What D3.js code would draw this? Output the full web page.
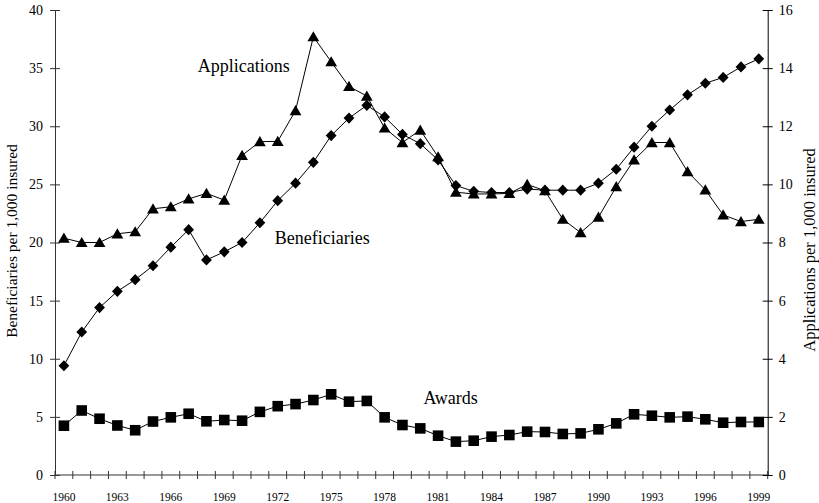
<!DOCTYPE html>
<html>
<head>
<meta charset="utf-8">
<script src="https://cdn.jsdelivr.net/npm/d3@7"></script>
<style>
  html, body { margin: 0; padding: 0; background: #fff; }
  svg { display: block; }
  svg text { font-family: "Liberation Serif", "Times New Roman", serif; }
</style>
</head>
<body>
<svg id="chart" width="819" height="503"></svg>
<script>
// Disability insurance rates per 1,000 insured workers, 1960-1999
const years = d3.range(1960, 2000);

// left axis: beneficiaries and awards per 1,000 insured
const beneficiaries = [9.4, 12.3, 14.4, 15.8, 16.8, 18.0, 19.6, 21.1, 18.5, 19.2,
  20.0, 21.7, 23.6, 25.1, 26.9, 29.2, 30.7, 31.8, 30.8, 29.3,
  28.5, 27.1, 24.9, 24.4, 24.3, 24.3, 24.6, 24.5, 24.5, 24.5,
  25.1, 26.3, 28.2, 30.0, 31.4, 32.7, 33.7, 34.2, 35.1, 35.8];

const awards = [4.24, 5.55, 4.84, 4.26, 3.85, 4.6, 4.96, 5.27, 4.62, 4.73,
  4.67, 5.43, 5.92, 6.1, 6.45, 6.94, 6.31, 6.37, 4.96, 4.3,
  4.01, 3.38, 2.87, 2.95, 3.3, 3.44, 3.73, 3.7, 3.53, 3.58,
  3.93, 4.44, 5.22, 5.1, 4.96, 5.02, 4.79, 4.5, 4.56, 4.56];

// right axis: applications per 1,000 insured
const applications = [8.15, 8.0, 8.0, 8.3, 8.37, 9.16, 9.23, 9.5, 9.69, 9.46,
  11.0, 11.47, 11.48, 12.54, 15.08, 14.22, 13.37, 13.04, 11.94, 11.44,
  11.87, 10.95, 9.73, 9.67, 9.67, 9.69, 10.0, 9.78, 8.8, 8.34,
  8.87, 9.92, 10.84, 11.44, 11.44, 10.44, 9.81, 8.95, 8.72, 8.8];

const leftTicks = [0, 5, 10, 15, 20, 25, 30, 35, 40];
const rightTicks = [0, 2, 4, 6, 8, 10, 12, 14, 16];
const yearLabels = years.filter((y, i) => i % 3 === 0);

const leftTitle = "Beneficiaries per 1,000 insured";
const rightTitle = "Applications per 1,000 insured";

const FONT = '"Liberation Serif", "Times New Roman", serif';
const svg = d3.select("#chart");
const plot = { left: 55, right: 767.7, top: 10, bottom: 475 };

const x = d3.scaleBand().domain(years).range([plot.left, plot.right]).padding(0);
const xc = yr => x(yr) + x.bandwidth() / 2;
// fractional-year position for annotation text
const xAt = yr => xc(1960) + (yr - 1960) * x.step();
const yL = d3.scaleLinear().domain([0, 40]).range([plot.bottom, plot.top]);
const yR = d3.scaleLinear().domain([0, 16]).range([plot.bottom, plot.top]);

// x axis: ticks sit on category boundaries, labels every third year
const xEdges = years.map(y => x(y)).concat([plot.right]);
const gx = svg.append("g");
gx.append("line")
  .attr("x1", plot.left).attr("x2", plot.right)
  .attr("y1", plot.bottom).attr("y2", plot.bottom)
  .attr("stroke", "#333").attr("stroke-width", 1);
gx.selectAll("line.tick").data(xEdges).join("line")
  .attr("class", "tick")
  .attr("x1", d => d).attr("x2", d => d)
  .attr("y1", plot.bottom - 4).attr("y2", plot.bottom + 4)
  .attr("stroke", "#333").attr("stroke-width", 1);
gx.selectAll("text").data(yearLabels).join("text")
  .attr("x", d => xc(d)).attr("y", 500.5)
  .attr("text-anchor", "middle")
  .attr("font-family", FONT)
  .attr("font-size", "11.5px")
  .attr("fill", "#000")
  .text(d => d);

// left axis
const gl = svg.append("g")
  .attr("transform", `translate(${plot.left},0)`)
  .call(d3.axisLeft(yL).tickValues(leftTicks).tickSize(5).tickSizeOuter(0).tickPadding(7))
  .attr("font-family", FONT);
gl.select(".domain").attr("stroke", "#333");
gl.selectAll(".tick line").attr("x1", -5).attr("x2", 5).attr("stroke", "#333");
gl.selectAll(".tick text")
  .attr("font-family", FONT)
  .attr("font-size", "14px").attr("fill", "#000");

// right axis
const gr = svg.append("g")
  .attr("transform", `translate(${plot.right},0)`)
  .call(d3.axisRight(yR).tickValues(rightTicks).tickSize(5).tickSizeOuter(0).tickPadding(6))
  .attr("font-family", FONT);
gr.select(".domain").attr("stroke", "#000");
gr.selectAll(".tick line").attr("x1", -5).attr("x2", 5).attr("stroke", "#000");
gr.selectAll(".tick text")
  .attr("font-family", FONT)
  .attr("font-size", "14px").attr("fill", "#000");

// axis titles
svg.append("text")
  .attr("transform", "translate(17,241) rotate(-90)")
  .attr("text-anchor", "middle").attr("font-family", FONT)
  .attr("font-size", "15.5px").attr("fill", "#000")
  .text(leftTitle);
svg.append("text")
  .attr("transform", "translate(815,250) rotate(-90)")
  .attr("text-anchor", "middle").attr("font-family", FONT)
  .attr("font-size", "16.5px").attr("fill", "#000")
  .text(rightTitle);

// series
const series = [
  { name: "awards", values: awards, y: yL, marker: "square" },
  { name: "beneficiaries", values: beneficiaries, y: yL, marker: "diamond" },
  { name: "applications", values: applications, y: yR, marker: "triangle" }
];

const markerPath = {
  square: "M-5.3,-5.3H5.3V5.3H-5.3Z",
  diamond: "M0,-5.6L5.4,0L0,5.6L-5.4,0Z",
  triangle: "M0,-5.6L5.9,4.6L-5.9,4.6Z"
};

series.forEach(s => {
  const pts = years.map((yr, i) => [xc(yr), s.y(s.values[i])]);
  svg.append("path")
    .attr("d", d3.line()(pts))
    .attr("fill", "none").attr("stroke", "#000").attr("stroke-width", 1);
  svg.append("g").selectAll("path").data(pts).join("path")
    .attr("transform", d => `translate(${d[0]},${d[1]})`)
    .attr("d", markerPath[s.marker])
    .attr("fill", "#000");
});

// series labels
const notes = [
  { text: "Applications", yr: 1970.1, v: 34.67 },
  { text: "Beneficiaries", yr: 1974.5, v: 19.87 },
  { text: "Awards", yr: 1981.7, v: 6.11 }
];
svg.append("g").selectAll("text").data(notes).join("text")
  .attr("x", d => xAt(d.yr)).attr("y", d => yL(d.v))
  .attr("text-anchor", "middle")
  .attr("font-family", FONT)
  .attr("font-size", "18px").attr("fill", "#000")
  .text(d => d.text);
</script>
</body>
</html>
